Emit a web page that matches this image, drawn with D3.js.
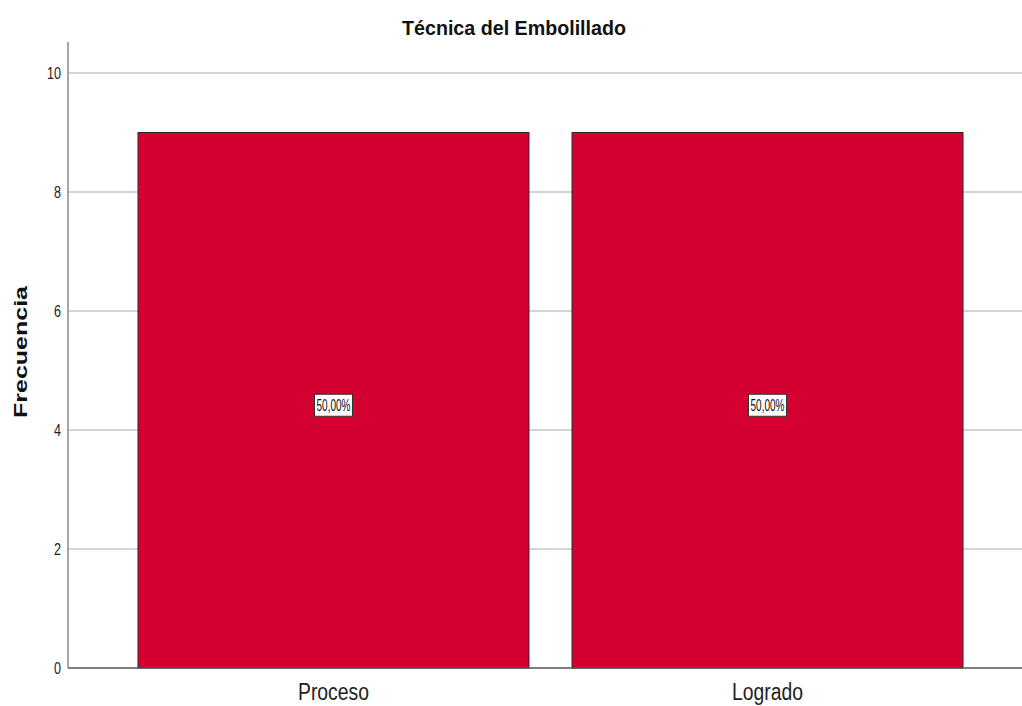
<!DOCTYPE html>
<html><head><meta charset="utf-8">
<script src="https://cdn.jsdelivr.net/npm/d3@7"></script>
<style>body{margin:0;background:#fff}svg{display:block}</style>
</head><body>
<svg id="c" width="1022" height="706"></svg>
<script>
const categories = ["Proceso", "Logrado"];
const values = [9, 9];
const labels = ["50,00%", "50,00%"];
const yTicks = [0, 2, 4, 6, 8, 10];
const title = "Técnica del Embolillado";
const yTitle = "Frecuencia";

const svg = d3.select("#c");
const font = "'Liberation Sans',Arial,sans-serif";
// condense text to a given width (mimics a narrow face)
function fit(sel, w) {
  sel.each(function () {
    const el = this, n = el.getComputedTextLength();
    if (n > w) { el.setAttribute("textLength", w); el.setAttribute("lengthAdjust", "spacingAndGlyphs"); }
  });
}
const x = d3.scaleBand().domain(categories).range([116.5, 984.5]).paddingInner(0.0991).paddingOuter(0.0495);
const y = d3.scaleLinear().domain([0, 10]).range([668, 73]);

// gridlines
svg.append("g").selectAll("line").data(yTicks.filter(d => d > 0)).join("line")
  .attr("x1", 68).attr("x2", 1022).attr("y1", d => y(d)).attr("y2", d => y(d))
  .attr("stroke", "#d4d4d4").attr("stroke-width", 2);

// bars
svg.append("g").selectAll("rect").data(categories).join("rect")
  .attr("x", d => x(d)).attr("width", x.bandwidth())
  .attr("y", (d, i) => y(values[i])).attr("height", (d, i) => y(0) - y(values[i]))
  .attr("fill", "#d50032").attr("stroke", "#2b2b2b").attr("stroke-width", 1);

// y axis
const ya = svg.append("g").attr("transform", "translate(68,0)")
  .call(d3.axisLeft(y).tickValues(yTicks).tickSize(0).tickPadding(7).tickFormat(d3.format("d")));
ya.select(".domain").remove();
ya.selectAll("text").attr("font-family", font).attr("font-size", 16).attr("fill", "#222")
  .each(function (d) { fit(d3.select(this), String(d).length * 7); });
svg.append("line").attr("x1", 68).attr("x2", 68).attr("y1", 42).attr("y2", 668)
  .attr("stroke", "#888").attr("stroke-width", 1.5);
// x baseline
svg.append("line").attr("x1", 68).attr("x2", 1022).attr("y1", 668).attr("y2", 668)
  .attr("stroke", "#555").attr("stroke-width", 1.5);

// x axis labels
const xa = svg.append("g").attr("transform", "translate(0,668)")
  .call(d3.axisBottom(x).tickSize(0).tickPadding(16));
xa.select(".domain").remove();
xa.selectAll("text").attr("font-family", font).attr("font-size", 23).attr("fill", "#222").call(fit, 71);

// value labels
const lg = svg.append("g").selectAll("g").data(categories).join("g")
  .attr("transform", (d, i) => `translate(${x(d) + x.bandwidth() / 2},${y(values[i] / 2) + 5})`);
lg.append("rect").attr("x", -19).attr("y", -11).attr("width", 38).attr("height", 22)
  .attr("fill", "#fff").attr("stroke", "#333").attr("stroke-width", 1);
lg.append("text").text((d, i) => labels[i]).attr("text-anchor", "middle").attr("dy", "0.36em")
  .attr("font-family", font).attr("font-size", 16).attr("fill", "#111").call(fit, 34);

// title
svg.append("text").attr("x", 514).attr("y", 35).attr("text-anchor", "middle")
  .attr("font-family", font).attr("font-weight", "bold").attr("font-size", 20).attr("fill", "#111").text(title).call(fit, 224);
// y title
svg.append("text").attr("transform", "translate(27,352) rotate(-90)").attr("text-anchor", "middle")
  .attr("font-family", font).attr("font-weight", "bold").attr("font-size", 19)
  .attr("fill", "#111").text(yTitle)
  .attr("textLength", 132).attr("lengthAdjust", "spacingAndGlyphs");
</script>
</body></html>
